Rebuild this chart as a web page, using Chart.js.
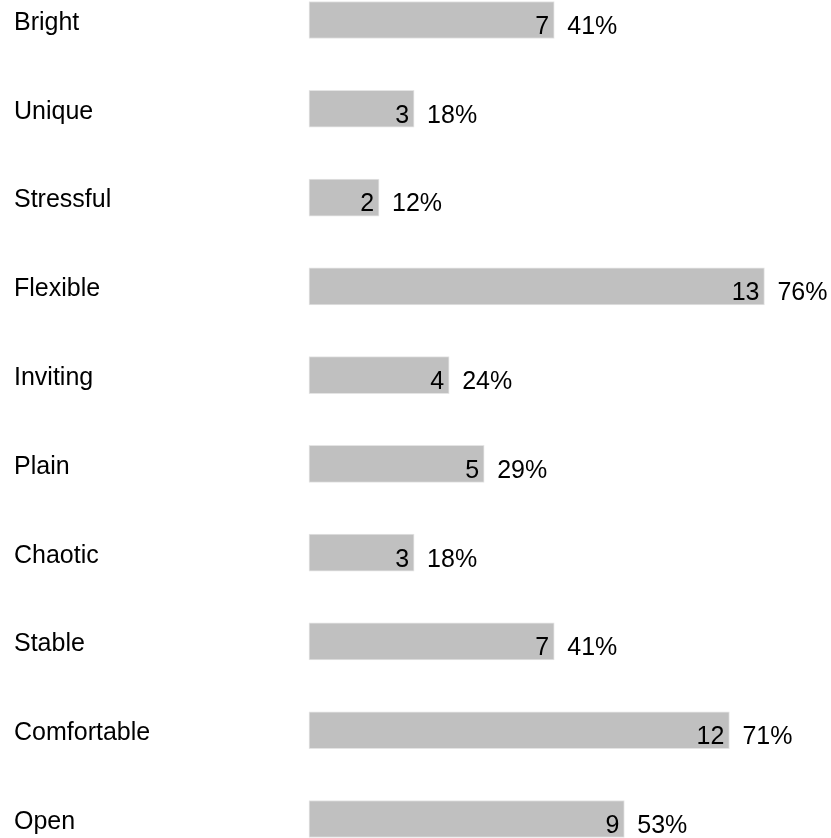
<!DOCTYPE html>
<html>
<head>
<meta charset="utf-8">
<script src="https://cdn.jsdelivr.net/npm/chart.js@4/dist/chart.umd.min.js"></script>
<style>
  html, body { margin: 0; padding: 0; background: #fff; }
  #wrap { width: 831px; height: 838px; position: relative; }
</style>
</head>
<body>
<div id="wrap"><canvas id="grafico"></canvas></div>
<script>
const categorias = ['Bright', 'Unique', 'Stressful', 'Flexible', 'Inviting', 'Plain', 'Chaotic', 'Stable', 'Comfortable', 'Open']
const cuentas = [7, 3, 2, 13, 4, 5, 3, 7, 12, 9]
const porcentajes = ['41%', '18%', '12%', '76%', '24%', '29%', '18%', '41%', '71%', '53%']

const fuente = { family: '"Liberation Sans", Arial, sans-serif', size: 25 }

// escribe la cuenta dentro de la barra y el porcentaje a su derecha
const etiquetas = {
    id: 'etiquetas',
    afterDatasetsDraw(chart) {
        const ctx = chart.ctx
        const meta = chart.getDatasetMeta(0)
        ctx.save()
        ctx.font = `${fuente.size}px ${fuente.family}`
        ctx.fillStyle = '#000'
        ctx.textBaseline = 'middle'
        meta.data.forEach((barra, i) => {
            const y = barra.y + 7
            ctx.textAlign = 'right'
            ctx.fillText(String(cuentas[i]), barra.x - 5, y)
            ctx.textAlign = 'left'
            ctx.fillText(porcentajes[i], barra.x + 13, y)
        })
        ctx.restore()
    }
}

let miGrafico = new Chart(document.getElementById('grafico'), {
    type: 'bar',
    data: {
        labels: categorias,
        datasets: [{
            data: cuentas,
            backgroundColor: '#c0c0c0',
            borderColor: '#e4e4e4',
            borderWidth: 1,
            borderSkipped: false,
            barThickness: 37,
            clip: false
        }]
    },
    options: {
        indexAxis: 'y',
        responsive: true,
        maintainAspectRatio: false,
        animation: false,
        layout: { padding: { left: 14, right: 0, top: 20, bottom: 19 } },
        plugins: {
            legend: { display: false },
            tooltip: { enabled: false }
        },
        scales: {
            x: {
                display: false,
                min: 0,
                max: 14.9
            },
            y: {
                offset: false,
                grid: { display: false, drawTicks: false },
                border: { display: false },
                ticks: {
                    crossAlign: 'far',
                    color: '#000',
                    font: fuente,
                    padding: 0,
                    labelOffset: 3
                },
                afterFit(scale) { scale.width = 295 }
            }
        }
    },
    plugins: [etiquetas]
})
</script>
</body>
</html>
